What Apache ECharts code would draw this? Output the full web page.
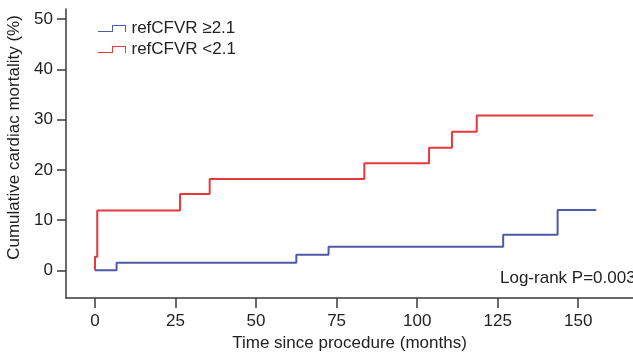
<!DOCTYPE html>
<html>
<head>
<meta charset="utf-8">
<script src="https://cdn.jsdelivr.net/npm/echarts@6/dist/echarts.min.js"></script>
<style>html,body{margin:0;padding:0;background:#fff}#c{width:633px;height:353px}</style>
</head>
<body>
<div id="c"></div>
<script>
const seriesNames = ['refCFVR \u22652.1', 'refCFVR <2.1'];
const blueTimes  = [0, 6.7, 62.5, 72.5, 126.7, 143.6, 155.6];
const blueValues = [0, 1.5, 3.1, 4.7, 7.1, 12.0, 12.0];
const redTimes   = [0, 0, 0.7, 26.4, 35.6, 83.6, 103.7, 110.8, 118.5, 154.6];
const redValues  = [0, 2.7, 11.9, 15.2, 18.2, 21.3, 24.4, 27.6, 30.8, 30.8];
const xTicks = [0, 25, 50, 75, 100, 125, 150];
const yTicks = [0, 10, 20, 30, 40, 50];
const annotation = 'Log-rank P=0.003';

const FONT = '"Liberation Sans", Arial, sans-serif';
const FS = 17;
const AX = '#3a3a3a';
const TXT = '#222';
const BLUE = '#4c5aaa';
const RED = '#e5393e';
const stepIcon = 'path://M0,6 L14,6 L14,0 L28,0 L28,7 L27,7 L27,1 L15,1 L15,7 L0,7 Z';

function pairs(xs, ys) { return xs.map((x, i) => [x, ys[i]]); }

const chart = echarts.init(document.getElementById('c'), null, {renderer: 'canvas'});
chart.setOption({
  animation: false,
  backgroundColor: '#fff',
  grid: {left: 66, right: 0, top: 9, bottom: 55, containLabel: false, outerBoundsMode: 'none'},
  legend: {
    orient: 'vertical', left: 98, top: 20, itemGap: 4, padding: 0,
    itemWidth: 29, itemHeight: 7, icon: stepIcon,
    textStyle: {fontFamily: FONT, fontSize: FS, color: TXT},
    data: seriesNames
  },
  xAxis: {
    type: 'value', min: -9, max: 167,
    name: 'Time since procedure (months)', nameLocation: 'middle', nameGap: 37,
    nameTextStyle: {fontFamily: FONT, fontSize: FS, color: TXT},
    axisLine: {show: true, onZero: false, lineStyle: {color: AX, width: 1.5}},
    axisTick: {show: true, length: 10, inside: false, customValues: xTicks, lineStyle: {color: AX, width: 1.5}},
    axisLabel: {customValues: xTicks, margin: 15, fontFamily: FONT, fontSize: FS, color: TXT},
    splitLine: {show: false}
  },
  yAxis: {
    type: 'value', min: -5.5, max: 52,
    name: 'Cumulative cardiac mortality (%)', nameLocation: 'middle', nameGap: 36,
    nameTextStyle: {fontFamily: FONT, fontSize: FS, color: TXT, padding: [0, 0, 0, 32]},
    axisLine: {show: true, onZero: false, lineStyle: {color: AX, width: 1.5}},
    axisTick: {show: true, length: 9, inside: false, customValues: yTicks, lineStyle: {color: AX, width: 1.5}},
    axisLabel: {customValues: yTicks, margin: 13, fontFamily: FONT, fontSize: FS, color: TXT},
    splitLine: {show: false}
  },
  series: [
    {name: seriesNames[0], type: 'line', step: 'end', showSymbol: false, symbol: 'none',
     color: BLUE, lineStyle: {color: BLUE, width: 2}, data: pairs(blueTimes, blueValues)},
    {name: seriesNames[1], type: 'line', step: 'end', showSymbol: false, symbol: 'none',
     color: RED, lineStyle: {color: RED, width: 2}, data: pairs(redTimes, redValues)}
  ],
  graphic: [{
    type: 'text', left: 500, top: 270,
    style: {text: annotation, font: FS + 'px ' + FONT, fill: TXT}
  }]
});
</script>
</body>
</html>
